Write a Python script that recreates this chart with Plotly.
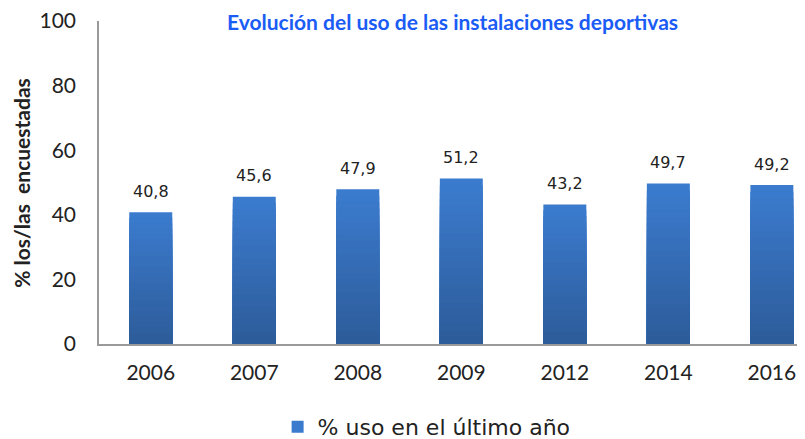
import plotly.graph_objects as go

years = ["2006", "2007", "2008", "2009", "2012", "2014", "2016"]
values = [40.8, 45.6, 47.9, 51.2, 43.2, 49.7, 49.2]
series_name = "% uso en el último año"
title_text = "Evolución del uso de las instalaciones deportivas"
y_title = "% los/las  encuestadas"
y_ticks = [0, 20, 40, 60, 80, 100]

top_rgb = (59, 123, 206)
bot_rgb = (45, 92, 154)
N = 24

fig = go.Figure()
# gradient: overlay bars of decreasing fraction of each bar's height
for k in range(N):
    frac = 1 - k / N
    t = k / (N - 1)
    c = tuple(int(round(top_rgb[i] + (bot_rgb[i] - top_rgb[i]) * t)) for i in range(3))
    color = "rgb(%d,%d,%d)" % c
    first = k == 0
    fig.add_trace(go.Bar(
        x=years, y=[v * frac for v in values],
        width=0.415,
        marker=dict(color=color, line=dict(width=0)),
        name=series_name,
        showlegend=first,
        hoverinfo="skip" if not first else None,
    ))

annotations = []
for i, v in enumerate(values):
    annotations.append(dict(
        x=i, y=v, xref="x", yref="y", text=("%.1f" % v).replace(".", ","),
        showarrow=False, yshift=21, yanchor="middle",
        font=dict(family="DejaVu Sans", size=16, color="#222")))

annotations.append(dict(text="<b>" + title_text + "</b>", xref="paper", yref="paper",
                        x=0.50, y=0.997, xanchor="center", yanchor="middle", showarrow=False,
                        font=dict(family="Lato", size=21, color="#1a5cf5")))
annotations.append(dict(text="<b>" + y_title + "</b>", xref="paper", yref="paper",
                        x=-0.110, y=0.5, xanchor="center", yanchor="middle", showarrow=False,
                        textangle=-90,
                        font=dict(family="Lato", size=21, color="#222")))

fig.update_layout(
    width=797, height=431,
    barmode="overlay",
    separators=",.",
    paper_bgcolor="white", plot_bgcolor="white",
    margin=dict(l=91, r=0, t=13, b=95),
    showlegend=True,
    legend=dict(orientation="h", x=0.253, xanchor="left",
                yref="container", y=0.028, yanchor="middle",
                font=dict(family="DejaVu Sans", size=22, color="#222"),
                itemwidth=30, bgcolor="rgba(0,0,0,0)"),
    xaxis=dict(type="category", range=[-0.5, 6.32], showgrid=False, automargin=False,
               showline=True, linecolor="#9a9a9a", linewidth=1.5,
               ticks="", tickfont=dict(family="Lato", size=21, color="#222"),
               ticklabelstandoff=9),
    yaxis=dict(range=[0, 100], tickvals=y_ticks, showgrid=False, zeroline=False, automargin=False,
               showline=True, linecolor="#9a9a9a", linewidth=1.5,
               ticks="", tickfont=dict(family="Lato", size=21, color="#222"),
               ticklabelstandoff=17, ticklabeloverflow="allow"),
    annotations=annotations,
)

fig.write_html("out.html")
